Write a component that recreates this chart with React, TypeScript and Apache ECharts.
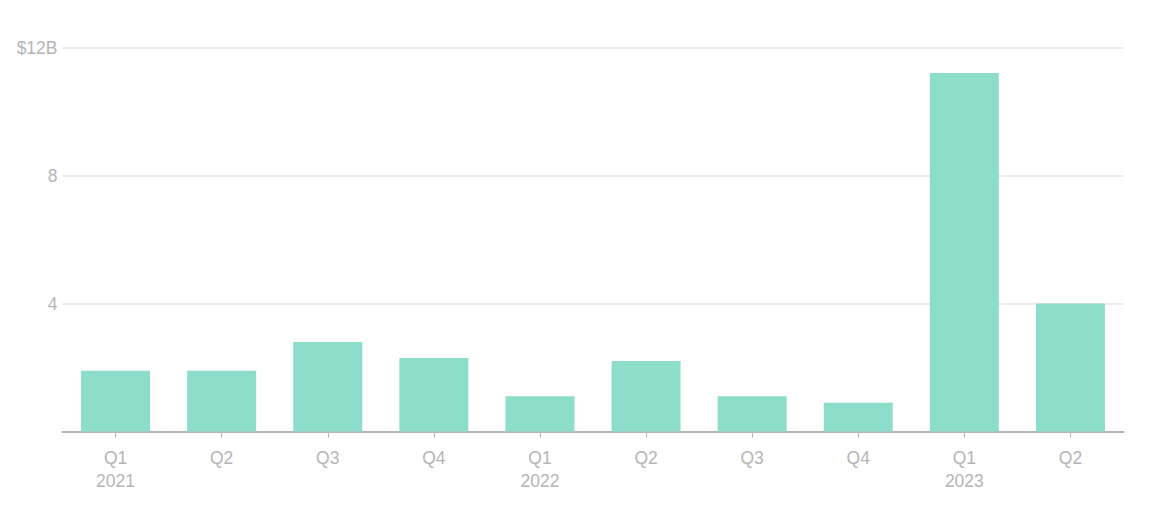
import React, { useEffect, useRef } from "react";
import * as echarts from "echarts";

const quarters = ["Q1", "Q2", "Q3", "Q4", "Q1", "Q2", "Q3", "Q4", "Q1", "Q2"];
const years = ["2021", "", "", "", "2022", "", "", "", "2023", ""];
const values = [1.9, 1.9, 2.8, 2.3, 1.1, 2.2, 1.1, 0.9, 11.2, 4.0];
const yTicks = [0, 4, 8, 12];
const yTickLabels = ["", "4", "8", "$12B"];

const categories = quarters.map((q, i) => (years[i] ? `${q}\n${years[i]}` : q));

export default function App() {
  const ref = useRef<HTMLDivElement>(null);
  useEffect(() => {
    if (!ref.current) return;
    const chart = echarts.init(ref.current, undefined, { renderer: "svg" });
    chart.setOption({
      animation: false,
      textStyle: { fontFamily: "Liberation Sans, Arial, sans-serif" },
      grid: { left: 62.5, right: 41.5, top: 47.5, bottom: 99.5, containLabel: false },
      xAxis: {
        type: "category",
        data: categories,
        axisLine: { show: true, lineStyle: { color: "#b5b5b5", width: 2 } },
        axisTick: { show: true, alignWithLabel: true, length: 6, lineStyle: { color: "#b5b5b5", width: 1 } },
        axisLabel: {
          color: "#b5b5b5",
          fontSize: 17.5,
          lineHeight: 23,
          margin: 15,
          interval: 0,
          fontFamily: "Liberation Sans, Arial, sans-serif",
        },
      },
      yAxis: {
        type: "value",
        min: 0,
        max: 12,
        interval: 4,
        axisLine: { show: false },
        axisTick: { show: false },
        splitLine: { show: true, lineStyle: { color: "#ebebeb", width: 2 } },
        axisLabel: {
          color: "#b5b5b5",
          fontSize: 17.5,
          margin: 5,
          fontFamily: "Liberation Sans, Arial, sans-serif",
          formatter: (v: number) => {
            const idx = yTicks.indexOf(v);
            return idx >= 0 ? yTickLabels[idx] : "";
          },
        },
      },
      series: [
        {
          type: "bar",
          data: values,
          barWidth: 69,
          itemStyle: { color: "#8cdecb" },
        },
      ],
    });
    return () => chart.dispose();
  }, []);
  return (
    <div
      ref={ref}
      style={{ position: "fixed", left: 0, top: 0, width: 1165, height: 531, background: "#fff" }}
    />
  );
}
